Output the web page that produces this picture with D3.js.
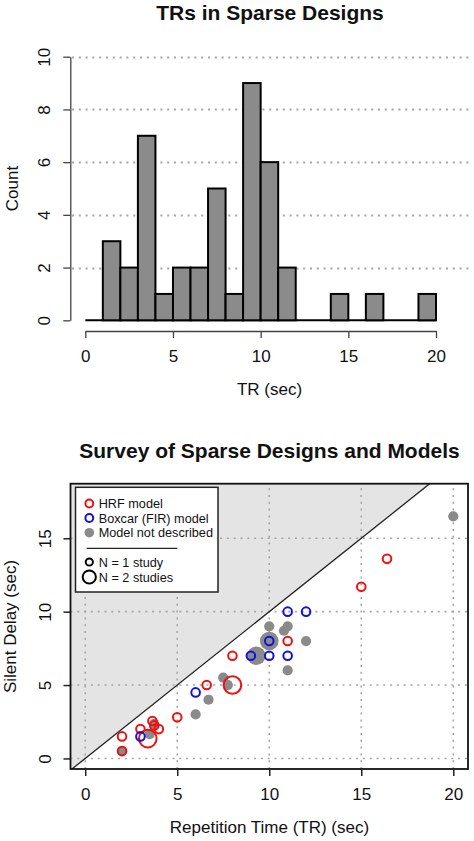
<!DOCTYPE html>
<html>
<head>
<meta charset="utf-8">
<script src="https://cdn.jsdelivr.net/npm/d3@7/dist/d3.min.js"></script>
<style>
    body { margin: 0; background: #fff; }
    svg text { font-family: "Liberation Sans", Arial, sans-serif; fill: #111; }
</style>
</head>
<body>
<div id="chart"></div>
<script>
// Histogram data (bin edges in sec, counts per bin)
const binEdges = [0, 1, 2, 3, 4, 5, 6, 7, 8, 9, 10, 11, 12, 13, 14, 15, 16, 17, 18, 19, 20];
const binCounts = [0, 3, 2, 7, 1, 2, 2, 5, 1, 9, 6, 2, 0, 0, 1, 0, 1, 0, 0, 1];
const countTicks = [0, 2, 4, 6, 8, 10];
const trTicks = [0, 5, 10, 15, 20];
const delayTicks = [0, 5, 10, 15];

// Scatter data: [TR, silent delay, number of studies]
const hrfPoints = [
    [2, 1.5, 1], [2, 0.5, 1], [3, 2, 1], [3.4, 1.35, 2], [3.65, 2.55, 1],
    [3.75, 2.25, 1], [4, 2, 1], [5, 2.8, 1], [6.6, 5, 1], [8, 5, 2],
    [8, 7, 1], [11, 8, 1], [15, 11.7, 1], [16.4, 13.6, 1]
];
const boxcarPoints = [
    [3, 1.5, 1], [6, 4.5, 1], [9, 7, 1], [10, 7, 1], [10, 8, 1],
    [11, 7, 1], [11, 10, 1], [12, 10, 1]
];
const otherPoints = [
    [2, 0.5, 1], [3.5, 1.65, 1], [3.75, 2.35, 1], [6, 3, 1], [6.7, 4, 1],
    [7.5, 5.5, 1], [7.75, 5, 1], [9.3, 7, 2], [10, 8, 2], [10, 9, 1],
    [10.8, 8.7, 1], [11, 9, 1], [11, 6, 1], [12, 8, 1], [20, 16.5, 1]
];

const width = 474, height = 841;
const red = '#ee1111', blue = '#1111dd', grey = '#8a8a8a';
const fontTick = '17px', fontLab = '17px', fontTitle = '21px';
const gridColor = '#a6a6a6', gridDash = '2,4.8';

const svg = d3.select('#chart')
    .append('svg')
    .attr('width', width)
    .attr('height', height);

// ---------------- Histogram ----------------
const hx = d3.scaleLinear().domain([0, 20]).range([85.3, 436]);
const hy = d3.scaleLinear().domain([0, 10]).range([320.3, 56.7]);
const hist = svg.append('g');

hist.append('text')
    .attr('x', 270).attr('y', 20)
    .attr('text-anchor', 'middle')
    .attr('font-size', fontTitle).attr('font-weight', 'bold')
    .text('TRs in Sparse Designs');

// dotted grid
hist.selectAll('line.hgrid')
    .data(countTicks.filter(d => d > 0))
    .enter()
    .append('line')
    .attr('class', 'hgrid')
    .attr('x1', 72).attr('x2', 471)
    .attr('y1', d => Math.round(hy(d)) + 0.5).attr('y2', d => Math.round(hy(d)) + 0.5)
    .attr('stroke', gridColor).attr('stroke-width', 1.8)
    .attr('stroke-dasharray', gridDash);

// zero-height bins drawn as a baseline
hist.append('line')
    .attr('x1', hx(binEdges[0])).attr('x2', hx(binEdges[binEdges.length - 1]))
    .attr('y1', hy(0)).attr('y2', hy(0))
    .attr('stroke', '#000').attr('stroke-width', 2);

const histData = binCounts.map((c, i) => ({ x0: binEdges[i], x1: binEdges[i + 1], count: c }));
hist.selectAll('rect.bar')
    .data(histData.filter(d => d.count > 0))
    .enter()
    .append('rect')
    .attr('class', 'bar')
    .attr('x', d => hx(d.x0))
    .attr('y', d => hy(d.count))
    .attr('width', d => hx(d.x1) - hx(d.x0))
    .attr('height', d => hy(0) - hy(d.count))
    .attr('fill', '#8b8b8b')
    .attr('stroke', '#000')
    .attr('stroke-width', 2);

// axes
const hxAxis = hist.append('g')
    .attr('transform', 'translate(0,331)')
    .call(d3.axisBottom(hx).tickValues(trTicks).tickSize(7).tickSizeOuter(0));
hxAxis.selectAll('text').attr('y', 31).attr('dy', null).attr('font-size', fontTick);

const hyAxis = hist.append('g')
    .attr('transform', 'translate(70.3,0)')
    .call(d3.axisLeft(hy).tickValues(countTicks).tickSize(7).tickSizeOuter(0));
hyAxis.selectAll('text')
    .attr('transform', 'rotate(-90)')
    .attr('x', 0).attr('y', -20.3).attr('dy', null)
    .attr('text-anchor', 'middle')
    .attr('font-size', fontTick);

[hxAxis, hyAxis].forEach(a => {
    a.attr('font-family', null);
    a.select('.domain').attr('stroke', '#444').attr('stroke-width', 1.3);
    a.selectAll('.tick line').attr('stroke', '#444').attr('stroke-width', 1.3);
});

hist.append('text')
    .attr('x', 269.5).attr('y', 395)
    .attr('text-anchor', 'middle').attr('font-size', fontLab)
    .text('TR (sec)');
hist.append('text')
    .attr('transform', 'translate(17.5,188.5) rotate(-90)')
    .attr('text-anchor', 'middle').attr('font-size', fontLab)
    .text('Count');

// ---------------- Scatter ----------------
const sx = d3.scaleLinear().domain([-0.8, 20.8]).range([70.5, 468]);
const sy = d3.scaleLinear().domain([-0.72, 18.72]).range([769, 483.7]);
const rSmall = 4.3, rBig = 8.8;
const scat = svg.append('g');

scat.append('text')
    .attr('x', 269.5).attr('y', 457.5)
    .attr('text-anchor', 'middle')
    .attr('font-size', fontTitle).attr('font-weight', 'bold')
    .text('Survey of Sparse Designs and Models');

svg.append('clipPath').attr('id', 'plotClip')
    .append('rect')
    .attr('x', sx(-0.8)).attr('y', sy(18.72))
    .attr('width', sx(20.8) - sx(-0.8))
    .attr('height', sy(-0.72) - sy(18.72));

const plot = scat.append('g').attr('clip-path', 'url(#plotClip)');

// region where delay > TR (impossible)
plot.append('path')
    .attr('d', d3.line()([[sx(-0.8), sy(-0.8)], [sx(18.72), sy(18.72)], [sx(-0.8), sy(18.72)]]) + 'Z')
    .attr('fill', '#e4e4e4');

plot.selectAll('line.vgrid')
    .data(trTicks)
    .enter()
    .append('line')
    .attr('class', 'vgrid')
    .attr('x1', d => sx(d)).attr('x2', d => sx(d))
    .attr('y1', sy(-0.72)).attr('y2', sy(18.72))
    .attr('stroke', gridColor).attr('stroke-width', 1.6)
    .attr('stroke-dasharray', gridDash);
plot.selectAll('line.sgrid')
    .data(delayTicks)
    .enter()
    .append('line')
    .attr('class', 'sgrid')
    .attr('x1', sx(-0.8)).attr('x2', sx(20.8))
    .attr('y1', d => sy(d)).attr('y2', d => sy(d))
    .attr('stroke', gridColor).attr('stroke-width', 1.6)
    .attr('stroke-dasharray', gridDash);

plot.append('line')
    .attr('x1', sx(-0.8)).attr('y1', sy(-0.8))
    .attr('x2', sx(20.8)).attr('y2', sy(20.8))
    .attr('stroke', '#222').attr('stroke-width', 1.3);

plot.selectAll('circle.other')
    .data(otherPoints)
    .enter()
    .append('circle')
    .attr('class', 'other')
    .attr('cx', d => sx(d[0])).attr('cy', d => sy(d[1]))
    .attr('r', d => d[2] > 1 ? rBig + 0.5 : rSmall + 0.8)
    .attr('fill', grey);

[[hrfPoints, red], [boxcarPoints, blue]].forEach(([pts, col]) => {
    plot.selectAll(null)
        .data(pts)
        .enter()
        .append('circle')
        .attr('cx', d => sx(d[0])).attr('cy', d => sy(d[1]))
        .attr('r', d => d[2] > 1 ? rBig : rSmall)
        .attr('fill', 'none')
        .attr('stroke', col)
        .attr('stroke-width', 2);
});

// box
scat.append('rect')
    .attr('x', sx(-0.8)).attr('y', sy(18.72))
    .attr('width', sx(20.8) - sx(-0.8))
    .attr('height', sy(-0.72) - sy(18.72))
    .attr('fill', 'none').attr('stroke', '#111').attr('stroke-width', 1.8);

const sxAxis = scat.append('g')
    .attr('transform', `translate(0,${sy(-0.72)})`)
    .call(d3.axisBottom(sx).tickValues(trTicks).tickSize(7).tickSizeOuter(0));
sxAxis.selectAll('text').attr('y', 31).attr('dy', null).attr('font-size', fontTick);

const syAxis = scat.append('g')
    .attr('transform', `translate(${sx(-0.8)},0)`)
    .call(d3.axisLeft(sy).tickValues(delayTicks).tickSize(7).tickSizeOuter(0));
syAxis.selectAll('text')
    .attr('transform', 'rotate(-90)')
    .attr('x', 0).attr('y', -20).attr('dy', null)
    .attr('text-anchor', 'middle')
    .attr('font-size', fontTick);

[sxAxis, syAxis].forEach(a => {
    a.attr('font-family', null);
    a.select('.domain').remove();
    a.selectAll('.tick line').attr('stroke', '#222').attr('stroke-width', 1.5);
});

scat.append('text')
    .attr('x', 269.5).attr('y', 832.5)
    .attr('text-anchor', 'middle').attr('font-size', fontLab)
    .text('Repetition Time (TR) (sec)');
scat.append('text')
    .attr('transform', 'translate(16,626.5) rotate(-90)')
    .attr('text-anchor', 'middle').attr('font-size', fontLab)
    .text('Silent Delay (sec)');

// legend
const legend = scat.append('g');
legend.append('rect')
    .attr('x', 75.5).attr('y', 487.3)
    .attr('width', 142.5).attr('height', 104.7)
    .attr('fill', '#fff').attr('stroke', '#222').attr('stroke-width', 1.5);

const legendItems = [
    { label: 'HRF model', cy: 503.5, r: 3.9, fill: 'none', stroke: red },
    { label: 'Boxcar (FIR) model', cy: 518, r: 3.9, fill: 'none', stroke: blue },
    { label: 'Model not described', cy: 532.7, r: 4.8, fill: grey, stroke: 'none' },
    { label: 'N = 1 study', cy: 562, r: 3.6, fill: 'none', stroke: '#000' },
    { label: 'N = 2 studies', cy: 577, r: 6.6, fill: 'none', stroke: '#000' }
];
legend.selectAll('circle')
    .data(legendItems)
    .enter()
    .append('circle')
    .attr('cx', 89.3).attr('cy', d => d.cy).attr('r', d => d.r)
    .attr('fill', d => d.fill).attr('stroke', d => d.stroke).attr('stroke-width', 2);
legend.selectAll('text')
    .data(legendItems)
    .enter()
    .append('text')
    .attr('x', 98.7).attr('y', d => d.cy + 4.6)
    .attr('font-size', '12.7px')
    .text(d => d.label);
legend.append('line')
    .attr('x1', 86.7).attr('x2', 177.3)
    .attr('y1', 548.3).attr('y2', 548.3)
    .attr('stroke', '#222').attr('stroke-width', 1.2);
</script>
</body>
</html>
